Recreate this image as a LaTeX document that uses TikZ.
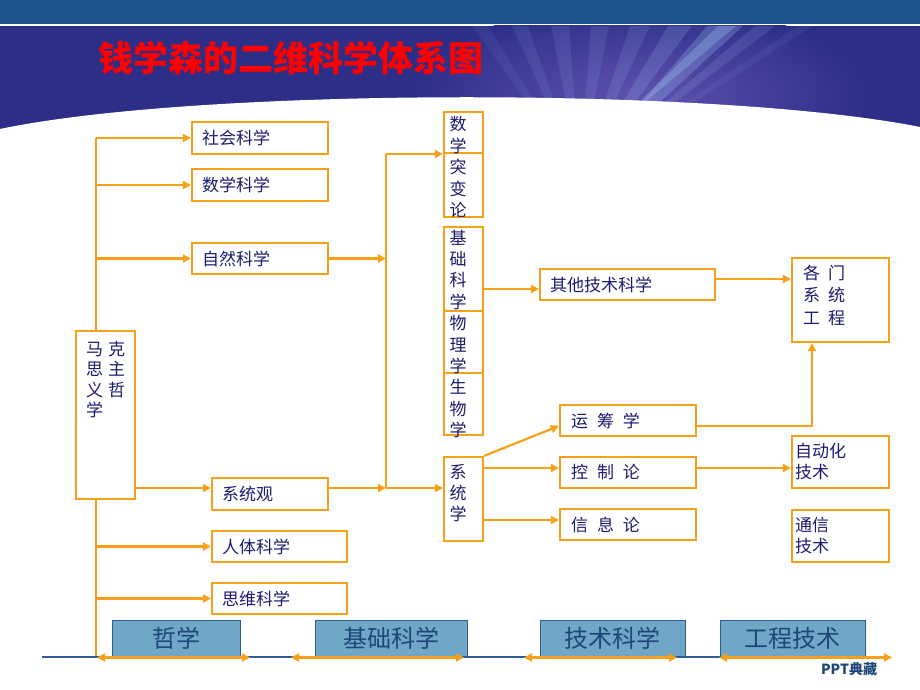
\documentclass[tikz,border=0pt]{standalone}
\usepackage{fontspec}
\setmainfont{Noto Sans CJK SC}
\usetikzlibrary{arrows.meta}
\definecolor{org}{RGB}{248,160,26}
\definecolor{navy}{RGB}{28,28,112}
\definecolor{topband}{RGB}{31,84,142}
\definecolor{banner}{RGB}{44,46,136}
\definecolor{glow}{RGB}{95,82,175}
\definecolor{ray}{RGB}{160,200,245}
\definecolor{steel}{RGB}{112,166,198}
\definecolor{steeldk}{RGB}{46,94,145}
\definecolor{steeltx}{RGB}{31,70,120}
\begin{document}
\begin{tikzpicture}[x=1pt,y=-1pt,
  box/.style={draw=org, line width=2.2pt, fill=white, inner sep=0pt, inner xsep=10pt, align=left, text=navy, font=\fontsize{17}{21}\selectfont},
  conn/.style={draw=org, line width=2.2pt},
  arr/.style={conn, -{Triangle[length=8pt,width=8pt]}},
  darr/.style={conn, {Triangle[length=8pt,width=8pt]}-{Triangle[length=8pt,width=8pt]}},
  vtxt/.style={text=navy, font=\fontsize{17}{21.4}\selectfont, inner sep=0pt, anchor=base},
  cat/.style={draw=steeldk, line width=1pt, fill=steel, text=steeltx, font=\fontsize{24}{24}\selectfont, inner sep=0pt}
]
\useasboundingbox (0,0) rectangle (920,690);
% background
\fill[white] (0,0) rectangle (920,690);
\fill[topband] (0,0) rectangle (920,24);
\fill[banner] (0,26) rectangle (920,135);
\begin{scope}
  \clip (0,26) rectangle (920,135);
  \shade[inner color=glow, outer color=banner] (640,95) ellipse (230 and 90);
  \foreach \tx/\w/\o in {480/8/0.08, 520/8/0.1, 560/9/0.12, 600/9/0.12, 640/10/0.14, 680/12/0.18, 725/18/0.25, 765/10/0.14, 805/8/0.08}{
    \fill[ray, opacity=\o] (580,175) -- (\tx-\w,26) -- (\tx+\w,26) -- cycle;
  }
  \fill[ray, opacity=0.3] (600,140) -- (718,26) -- (736,26) -- cycle;
\end{scope}
\fill[white] (0,129) .. controls (200,87) and (720,87) .. (920,127) -- (920,140) -- (0,140) -- cycle;
% title
\node[font=\fontsize{35}{35}\selectfont\bfseries, text=red, inner sep=0pt] (tit) at (291,58) {钱学森的二维科学体系图};

% trunk and branches
\coordinate (trT) at (96,138);
\coordinate (trB) at (96,657);
\draw[conn] (trT) -- (trB);

% left column boxes
\node[box, minimum width=136pt, minimum height=32pt, text width=116pt] (soc) at (260,138) {社会科学};
\node[box, minimum width=136pt, minimum height=32pt, text width=116pt] (mat) at (260,185) {数学科学};
\node[box, minimum width=136pt, minimum height=31pt, text width=116pt] (nat) at (260,258.5) {自然科学};
\node[box, minimum width=59pt, minimum height=168pt] (mkz) at (105.5,415) {};
\node[vtxt, anchor=base west, font=\fontsize{17}{20.5}\selectfont] (mkzT) at (86,355)
  {\begin{tabular}[t]{@{}l@{\hspace{5pt}}l@{}}马&克\\思&主\\义&哲\\学&\end{tabular}};
\node[box, minimum width=116pt, minimum height=32pt, text width=96pt] (sgv) at (270,494) {系统观};
\node[box, minimum width=135pt, minimum height=31pt, text width=115pt] (rt) at (279.5,546.5) {人体科学};
\node[box, minimum width=135pt, minimum height=31pt, text width=115pt] (sw) at (279.5,598.5) {思维科学};

\draw[arr] (trT) -- (soc.west);
\draw[arr] (mat.west -| trT) -- (mat.west);
\draw[arr] (nat.west -| trT) -- (nat.west);
\draw[arr] (rt.west -| trT) -- (rt.west);
\draw[arr] (sw.west -| trT) -- (sw.west);
\draw[arr] (mkz.east |- 0,488) -- (sgv.west |- 0,488);

% middle column
\node[box, minimum width=39pt, minimum height=41pt] (tuA) at (463.5,132.5) {};
\node[box, minimum width=39pt, minimum height=64pt] (tuB) at (463.5,185) {};
\node[box, minimum width=39pt, minimum height=84pt] (jc) at (463.5,269) {};
\node[box, minimum width=39pt, minimum height=62pt] (wl) at (463.5,342) {};
\node[box, minimum width=39pt, minimum height=62pt] (sw2) at (463.5,404) {};
\node[box, minimum width=39pt, minimum height=84pt] (xt) at (463.5,499) {};
\node[vtxt] (tuT) at (458,131) {\begin{tabular}[t]{@{}c@{}}数\\学\\突\\变\\论\end{tabular}};
\node[vtxt] (jcT) at (458,244) {\begin{tabular}[t]{@{}c@{}}基\\础\\科\\学\\物\\理\\学\\生\\物\\学\end{tabular}};
\node[vtxt] (xtT) at (458,478) {\begin{tabular}[t]{@{}c@{}}系\\统\\学\end{tabular}};

% bus
\coordinate (busT) at (386,154);
\coordinate (busB) at (386,488);
\draw[conn] (busT) -- (busB);
\draw[arr] (nat.east) -- (nat.east -| busT);
\draw[arr] (sgv.east |- busB) -- (busB);
\draw[arr] (busT) -- (busT -| tuA.west);
\draw[arr] (busB) -- (busB -| xt.west);

% right part
\node[box, minimum width=175pt, minimum height=31pt, text width=155pt] (qt) at (627.5,284.5) {其他技术科学};
\node[box, minimum width=97pt, minimum height=84pt] (gm) at (840.5,300) {};
\node[vtxt, anchor=base west, font=\fontsize{17}{22.5}\selectfont] (gmT) at (803,279)
  {\begin{tabular}[t]{@{}l@{\hspace{8pt}}l@{}}各&门\\系&统\\工&程\end{tabular}};
\node[box, inner xsep=11pt, minimum width=136pt, minimum height=31pt, text width=114pt] (yc) at (628,420.5) {运\hspace{9pt}筹\hspace{9pt}学};
\node[box, inner xsep=11pt, minimum width=136pt, minimum height=31pt, text width=114pt] (kz) at (628,472.5) {控\hspace{9pt}制\hspace{9pt}论};
\node[box, inner xsep=11pt, minimum width=136pt, minimum height=31pt, text width=114pt] (xx) at (628,524.5) {信\hspace{9pt}息\hspace{9pt}论};
\node[box, inner xsep=3pt, minimum width=97pt, minimum height=52pt, text width=91pt] (zd) at (840.5,462) {自动化\\技术};
\node[box, inner xsep=3pt, minimum width=97pt, minimum height=52pt, text width=91pt] (tx) at (840.5,536) {通信\\技术};

\draw[arr] (jc.east |- 0,289) -- (qt.west |- 0,289);
\draw[arr] (qt.east |- 0,279) -- (gm.west |- 0,279);
\draw[arr] (yc.east |- 0,426) -| (gm.south -| 812,0);
\draw[arr] (xt.north east) -- (yc.west |- 0,426);
\draw[arr] (xt.east |- 0,468) -- (kz.west |- 0,468);
\draw[arr] (xt.east |- 0,520) -- (xx.west |- 0,520);
\draw[arr] (kz.east |- 0,468) -- (zd.west |- 0,468);

% bottom categories
\coordinate (blL) at (42,657);
\coordinate (blR) at (880,657);
\draw[steeldk, line width=1.5pt] (blL) -- (blR);
\node[cat, minimum width=128pt, minimum height=36pt] (zx) at (176,638) {哲学};
\node[cat, minimum width=152pt, minimum height=36pt] (jk) at (391,638) {基础科学};
\node[cat, minimum width=145pt, minimum height=36pt] (js) at (612.5,638) {技术科学};
\node[cat, minimum width=145pt, minimum height=36pt] (gc) at (792.5,638) {工程技术};
\coordinate (a1) at (97,657.5); \coordinate (b1) at (250,657.5);
\coordinate (a2) at (291,657.5); \coordinate (b2) at (464,657.5);
\coordinate (a3) at (524,657.5); \coordinate (b3) at (677,657.5);
\coordinate (a4) at (719,657.5); \coordinate (b4) at (892,657.5);
\draw[darr] (a1) -- (b1);
\draw[darr] (a2) -- (b2);
\draw[darr] (a3) -- (b3);
\draw[darr] (a4) -- (b4);

\node[font=\fontsize{14}{14}\selectfont\bfseries, text=steeltx] (ppt) at (849,669) {PPT典藏};
\end{tikzpicture}
\end{document}
